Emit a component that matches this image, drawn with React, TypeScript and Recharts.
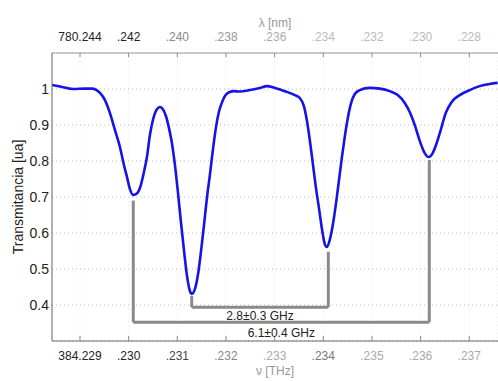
import React from "react";
import {
  ComposedChart,
  Line,
  XAxis,
  YAxis,
  CartesianGrid,
  ReferenceLine,
  Label,
} from "recharts";

// frequency offset from 384.229 THz, in GHz (1 unit = 0.001 THz)
const freqOffset = [
  -0.575, -0.41, -0.144, 0.103, 0.246, 0.411, 0.513, 0.616, 0.719, 0.821, 0.903,
  0.965, 1.027, 1.088, 1.15, 1.232, 1.314, 1.376, 1.437, 1.499, 1.581, 1.643,
  1.704, 1.766, 1.828, 1.889, 1.951, 2.012, 2.074, 2.136, 2.197, 2.259, 2.3,
  2.361, 2.423, 2.485, 2.546, 2.608, 2.669, 2.731, 2.793, 2.854, 2.936, 3.039,
  3.162, 3.285, 3.491, 3.696, 3.84, 4.004, 4.209, 4.415, 4.517, 4.6, 4.661,
  4.723, 4.784, 4.846, 4.908, 4.969, 5.031, 5.072, 5.133, 5.195, 5.257, 5.318,
  5.38, 5.441, 5.503, 5.565, 5.647, 5.749, 5.955, 6.16, 6.366, 6.53, 6.674,
  6.776, 6.879, 6.982, 7.084, 7.166, 7.248, 7.331, 7.413, 7.515, 7.639, 7.803,
  8.008, 8.214, 8.419, 8.583,
];
const transmission = [
  1.011, 1.007, 1.0, 1.001, 1.001, 0.989, 0.969, 0.933, 0.886, 0.839, 0.789,
  0.756, 0.722, 0.706, 0.708, 0.725, 0.769, 0.811, 0.872, 0.914, 0.944, 0.95,
  0.944, 0.925, 0.892, 0.85, 0.789, 0.714, 0.631, 0.553, 0.483, 0.439, 0.431,
  0.444, 0.483, 0.547, 0.619, 0.697, 0.761, 0.831, 0.892, 0.936, 0.969, 0.989,
  0.994, 0.993, 0.997, 1.003, 1.008, 1.003, 0.994, 0.983, 0.975, 0.953, 0.914,
  0.858, 0.794, 0.728, 0.672, 0.614, 0.569, 0.561, 0.581, 0.622, 0.678, 0.742,
  0.808, 0.867, 0.919, 0.958, 0.986, 0.997, 1.003, 1.001, 0.994, 0.983, 0.961,
  0.936, 0.9, 0.856, 0.822, 0.811, 0.822, 0.85, 0.886, 0.933, 0.964, 0.983,
  0.997, 1.008, 1.014, 1.017,
];

const xTicks = [0, 1, 2, 3, 4, 5, 6, 7, 8];
const freqLabels = ["384.229", ".230", ".231", ".232", ".233", ".234", ".235", ".236", ".237"];
const waveLabels = ["780.244", ".242", ".240", ".238", ".236", ".234", ".232", ".230", ".228"];
const freqColors = ["#222", "#222", "#444", "#888", "#aaa", "#777", "#aaa", "#aaa", "#aaa"];
const waveColors = ["#222", "#222", "#888", "#999", "#aaa", "#bbb", "#bbb", "#bbb", "#bbb"];
const yTicks = [0.4, 0.5, 0.6, 0.7, 0.8, 0.9, 1];

// peak separation brackets: [left x, right x, bar y, left top, right top]
const innerBracket = [2.296, 5.103, 0.394, 0.425, 0.548];
const outerBracket = [1.095, 7.178, 0.352, 0.69, 0.803];
const innerText = "2.8±0.3 GHz";
const outerText = "6.1±0.4 GHz";

const data = freqOffset.map((u, i) => ({ u, t: transmission[i] }));

const font = "'Liberation Sans', Arial, sans-serif";
const bracketColor = "#8a8a8a";

function BottomTick(props: any) {
  const { x, y, payload } = props;
  const i = xTicks.indexOf(payload.value);
  return (
    <g>
      <line x1={x} x2={x} y1={y} y2={y - 5} stroke="#888" />
      <text x={x} y={y + 19} textAnchor="middle" fontSize={12} fontFamily={font} fill={freqColors[i]}>
        {freqLabels[i]}
      </text>
    </g>
  );
}

function TopTick(props: any) {
  const { x, y, payload } = props;
  const i = xTicks.indexOf(payload.value);
  return (
    <g>
      <line x1={x} x2={x} y1={y} y2={y + 4} stroke="#888" />
      <text x={x} y={y - 12.5} textAnchor="middle" fontSize={12} fontFamily={font} fill={waveColors[i]}>
        {waveLabels[i]}
      </text>
    </g>
  );
}

function bracket(b: number[], text: string, offset: number, key: string) {
  const [x1, x2, yb, yl, yr] = b;
  return [
    <ReferenceLine
      key={key + "l"}
      segment={[{ x: x1, y: yl }, { x: x1, y: yb }]}
      stroke={bracketColor}
      strokeWidth={3}
      ifOverflow="visible"
    />,
    <ReferenceLine
      key={key + "h"}
      segment={[{ x: x1, y: yb }, { x: x2, y: yb }]}
      stroke={bracketColor}
      strokeWidth={3}
      ifOverflow="visible"
      label={{ value: text, position: "bottom", offset, fontSize: 12, fill: "#222", fontFamily: font }}
    />,
    <ReferenceLine
      key={key + "r"}
      segment={[{ x: x2, y: yb }, { x: x2, y: yr }]}
      stroke={bracketColor}
      strokeWidth={3}
      ifOverflow="visible"
    />,
  ];
}

export default function App() {
  return (
    <div style={{ position: "absolute", left: 0, top: 0, background: "#fff" }}>
      <ComposedChart
        width={498}
        height={381}
        data={data}
        margin={{ top: 0, right: 0, bottom: 0, left: 0 }}
        style={{ fontFamily: font }}
      >
        <CartesianGrid horizontal={false} stroke="#e2e2e2" strokeDasharray="1 3" />
        <CartesianGrid vertical={false} stroke="#bdbdbd" strokeDasharray="1 3" />
        <XAxis
          dataKey="u"
          type="number"
          domain={[-0.575, 8.59]}
          ticks={xTicks}
          allowDataOverflow
          height={40}
          tickSize={0}
          tickMargin={0}
          tick={<BottomTick />}
          stroke="#666"
          interval={0}
        >
          <Label value="ν [THz]" position="insideBottom" offset={6} fontSize={12} fill="#999" />
        </XAxis>
        <XAxis
          xAxisId="top"
          dataKey="u"
          orientation="top"
          type="number"
          domain={[-0.575, 8.59]}
          ticks={xTicks}
          allowDataOverflow
          height={53}
          tickSize={0}
          tickMargin={0}
          tick={<TopTick />}
          stroke="#999"
          interval={0}
        >
          <Label value="λ [nm]" position="insideTop" offset={18} fontSize={12} fill="#999" />
        </XAxis>
        <YAxis
          type="number"
          domain={[0.3, 1.1]}
          ticks={yTicks}
          allowDataOverflow
          width={52}
          tickSize={0}
          tickMargin={3}
          tickFormatter={(v) => (v === 1 ? "1" : Number(v).toFixed(1))}
          tick={{ fontSize: 14, fill: "#222" }}
          stroke="#666"
          interval={0}
        >
          <Label
            value="Transmitancia [ua]"
            angle={-90}
            position="insideLeft"
            offset={18}
            fontSize={14}
            fill="#222"
            style={{ textAnchor: "middle" }}
          />
        </YAxis>
        {bracket(outerBracket, outerText, 6, "o")}
        {bracket(innerBracket, innerText, 4, "i")}
        <Line
          xAxisId="top"
          dataKey="t"
          stroke="none"
          dot={false}
          activeDot={false}
          legendType="none"
          isAnimationActive={false}
        />
        <Line
          type="monotone"
          dataKey="t"
          stroke="#1414e6"
          strokeWidth={2.6}
          dot={false}
          isAnimationActive={false}
        />
      </ComposedChart>
    </div>
  );
}
